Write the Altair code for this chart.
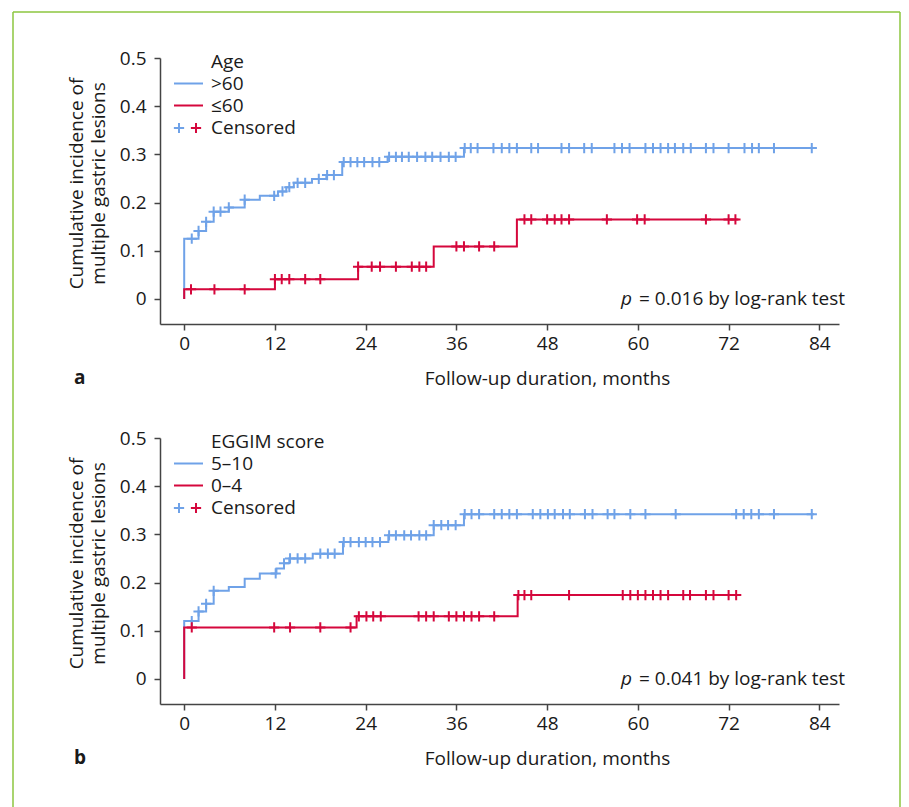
import altair as alt
import pandas as pd

BLUE = "#6fa2e8"
RED = "#d5073c"
GREEN = "#8dc63f"
FONT = "Open Sans"
PLUS = "M-1,0H1M0,-1V1"
FS = 19

# ---------------- data ----------------
# Panel a: Age
a_hi_t = [0, 0, 1.9, 2.9, 3.9, 5.9, 8.0, 10.0, 12.4, 13.5, 14.5, 16.9, 18.8, 20.9, 26.9, 37.0, 83.3]
a_hi_v = [0, 0.125, 0.141, 0.160, 0.181, 0.190, 0.206, 0.214, 0.223, 0.232, 0.241, 0.249, 0.257, 0.284, 0.295, 0.313, 0.313]
a_hi_c = [1.0, 1.9, 2.9, 3.9, 4.8, 5.9, 8.0, 11.9, 13.0, 13.9, 15.0, 16.0, 17.8, 18.9, 19.8,
          21.1, 22.0, 22.9, 23.8, 24.9, 25.8, 27.1, 28.0, 28.8, 29.7, 30.8, 31.9, 32.8, 33.9,
          35.0, 35.9, 37.1, 37.9, 38.8, 40.9, 42.0, 43.0, 44.0, 45.9, 46.8, 49.9, 50.9, 52.9,
          53.9, 56.9, 57.9, 58.9, 61.0, 62.0, 63.0, 64.0, 64.9, 66.0, 67.0, 69.0, 70.0, 72.0,
          74.1, 75.1, 76.0, 78.0, 83.0]
a_lo_t = [0, 0, 12.0, 23.0, 33.0, 44.0, 73.3]
a_lo_v = [0, 0.020, 0.041, 0.067, 0.109, 0.165, 0.165]
a_lo_c = [0.9, 4.0, 8.0, 12.0, 12.9, 13.9, 16.0, 18.0, 23.0, 24.8, 25.9, 28.0, 30.1, 31.1, 32.0,
          36.0, 37.0, 39.0, 41.0, 45.0, 45.9, 48.0, 49.0, 49.9, 50.9, 55.9, 59.9, 60.9, 69.0,
          72.0, 72.9]

# Panel b: EGGIM score
b_hi_t = [0, 0, 1.9, 2.9, 3.9, 5.9, 8.0, 10.0, 12.2, 13.2, 13.9, 17.0, 21.0, 27.0, 33.0, 37.0, 83.3]
b_hi_v = [0, 0.120, 0.140, 0.156, 0.183, 0.191, 0.208, 0.219, 0.229, 0.240, 0.250, 0.260, 0.284, 0.298, 0.319, 0.342, 0.342]
b_hi_c = [1.0, 1.9, 2.9, 3.9, 12.1, 13.2, 14.0, 15.0, 16.0, 18.0, 19.0, 19.9, 21.1, 22.0, 23.1,
          24.0, 24.9, 25.9, 27.1, 28.0, 29.1, 30.0, 31.1, 32.0, 33.0, 34.0, 34.9, 35.9, 37.1,
          38.0, 39.0, 41.0, 42.0, 43.0, 44.0, 46.1, 47.1, 48.1, 49.0, 50.1, 51.0, 53.0, 54.0,
          56.0, 56.9, 59.0, 61.0, 65.0, 73.0, 74.0, 75.0, 76.0, 78.0, 83.0]
b_lo_t = [0, 0, 22.8, 44.1, 73.6]
b_lo_v = [0, 0.107, 0.130, 0.174, 0.174]
b_lo_c = [1.0, 11.9, 14.0, 18.0, 22.0, 23.1, 24.1, 25.0, 26.0, 31.0, 32.0, 33.0, 35.0, 36.0,
          37.0, 38.0, 39.0, 41.0, 44.2, 45.0, 45.9, 50.9, 58.0, 59.0, 60.0, 61.0, 62.0, 63.0,
          64.0, 66.0, 66.9, 69.0, 70.0, 72.0, 73.0]

x_ticks = [0, 12, 24, 36, 48, 60, 72, 84]
y_ticks = [0, 0.1, 0.2, 0.3, 0.4, 0.5]

W, H = 679, 266
X_DOM = [-3.2, 86.6]
Y_DOM = [-0.052, 0.5]


def step_df(t, v, s):
    return pd.DataFrame({"t": t, "v": v, "s": s, "i": list(range(len(t)))})


def censor_df(ct, t, v, s):
    vals = []
    for c in ct:
        val = 0
        for ti, vi in zip(t, v):
            if ti <= c + 1e-9:
                val = vi
        vals.append(val)
    return pd.DataFrame({"t": ct, "v": vals, "s": s})


def panel(hi, lo, grp_title, hi_lab, lo_lab, ptext, letter, frame=False):
    (ht, hv, hc), (lt, lv, lc) = hi, lo
    lines = pd.concat([step_df(ht, hv, "hi"), step_df(lt, lv, "lo")])
    cens = pd.concat([censor_df(hc, ht, hv, "hi"), censor_df(lc, lt, lv, "lo")])
    color = alt.Color("s:N", scale=alt.Scale(domain=["hi", "lo"], range=[BLUE, RED]), legend=None)
    xenc = alt.X("t:Q", scale=alt.Scale(domain=X_DOM, nice=False, zero=False),
                 axis=alt.Axis(values=x_ticks, title="Follow-up duration, months", labelPadding=4,
                               titleX=387, titleY=54, titleAlign="center", titleBaseline="middle"))
    yenc = alt.Y("v:Q", scale=alt.Scale(domain=Y_DOM, nice=False, zero=False),
                 axis=alt.Axis(values=y_ticks, labelPadding=8,
                               labelExpr="datum.value == 0 ? '0' : format(datum.value, '.1f')",
                               title=["Cumulative incidence of", "multiple gastric lesions"],
                               titleX=-84, titleY=125, titleAlign="center", titleBaseline="middle"))

    line_layer = alt.Chart(lines).mark_line(interpolate="step-after", strokeWidth=2).encode(
        x=xenc, y=yenc, color=color, detail="s:N", order="i:Q")
    cens_layer = alt.Chart(cens).mark_point(shape=PLUS, size=105, strokeWidth=2, filled=False,
                                            opacity=1).encode(x="t:Q", y="v:Q", color=color)

    one = pd.DataFrame({"k": [0]})
    base = alt.Chart(one)

    def txt(s, x, y, **kw):
        opts = dict(font=FONT, fontSize=FS, color="#1a1a1a", align="left", baseline="middle")
        opts.update(kw)
        return base.mark_text(text=s, **opts).encode(x=alt.value(x), y=alt.value(y))

    def seg(x1, x2, y1, y2, c, w=2):
        return base.mark_rule(color=c, strokeWidth=w).encode(
            x=alt.value(x1), x2=alt.value(x2), y=alt.value(y1), y2=alt.value(y2))

    def plus(x, y, c):
        return base.mark_point(shape=PLUS, size=105, strokeWidth=2, filled=False, opacity=1,
                               color=c).encode(x=alt.value(x), y=alt.value(y))

    layers = []
    if frame:
        layers += [
            seg(-147, 740, -46, -46, GREEN, 1.5),
            seg(-147, -147, -46, 760, GREEN, 1.5),
            seg(740, 740, -46, 760, GREEN, 1.5),
        ]
    layers += [
        line_layer,
        cens_layer,
        txt(grp_title, 51, 4),
        seg(14, 43, 25.5, 25.5, BLUE), txt(hi_lab, 51, 26),
        seg(14, 43, 47.5, 47.5, RED), txt(lo_lab, 51, 47.5),
        plus(19, 70, BLUE), plus(36, 70, RED), txt("Censored", 51, 69.5),
        txt("p", 461, 241, fontStyle="italic"),
        txt("= " + ptext + " by log-rank test", 479, 241),
        txt(letter, -86, 320, fontWeight="bold", fontSize=FS),
    ]
    return alt.layer(*layers).properties(width=W, height=H)


pa = panel((a_hi_t, a_hi_v, a_hi_c), (a_lo_t, a_lo_v, a_lo_c), "Age", ">60", "≤60", "0.016", "a", frame=True)
pb = panel((b_hi_t, b_hi_v, b_hi_c), (b_lo_t, b_lo_v, b_lo_c), "EGGIM score", "5–10", "0–4", "0.041", "b")

chart = alt.vconcat(pa, pb, spacing=114, bounds="flush").properties(
    padding={"left": 4, "top": 3, "right": 0, "bottom": 0}
).configure_view(stroke=None).configure_axis(
    labelFont=FONT, labelFontSize=FS, labelColor="#1a1a1a",
    titleFont=FONT, titleFontSize=FS, titleFontWeight="normal", titleColor="#1a1a1a",
    titleLineHeight=22, grid=False, domainColor="#444", domainWidth=1.5,
    tickColor="#444", tickWidth=1.5, tickSize=6,
).configure_text(font=FONT)

chart.save("out.html", embed_options={"renderer": "svg", "actions": False})
